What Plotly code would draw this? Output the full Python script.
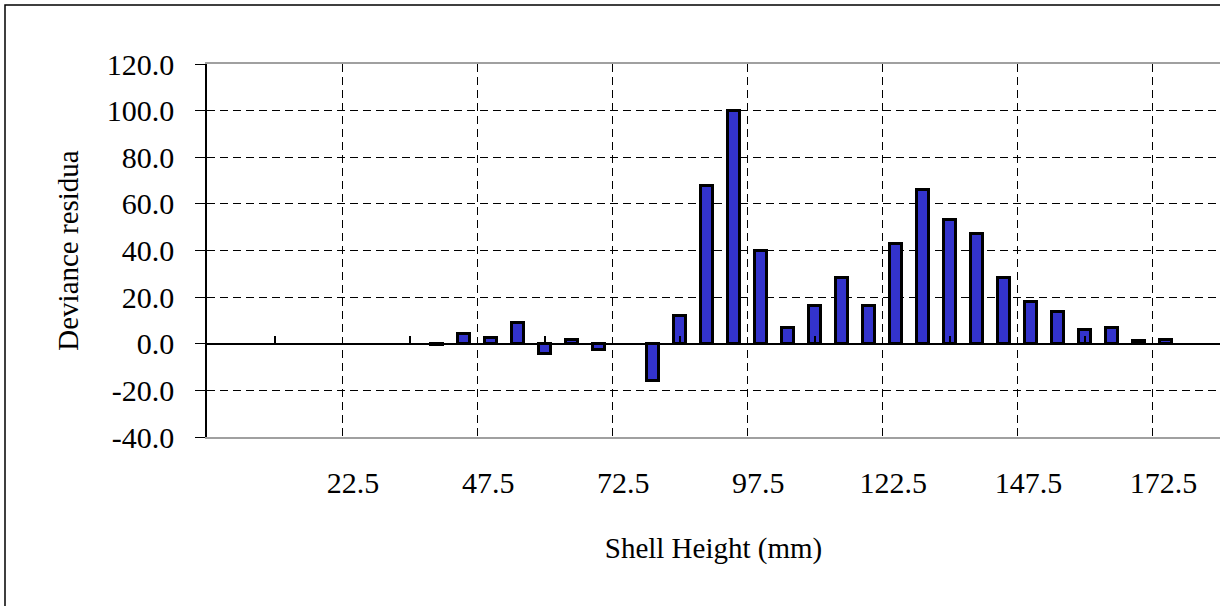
import plotly.graph_objects as go

# Data
shell_height = [40, 45, 50, 55, 60, 65, 70, 75, 80, 85, 90, 95, 100, 105, 110, 115,
                120, 125, 130, 135, 140, 145, 150, 155, 160, 165, 170, 175]
deviance = [-0.5, 4.2, 2.5, 8.7, -4.5, 1.5, -2.7, None, -16.0, 12.0, 67.5, 100.0, 40.0, 6.8,
            16.2, 28.2, 16.2, 42.8, 66.0, 53.0, 47.0, 28.2, 18.0, 13.6, 6.0, 6.7, 1.0, 1.8]

x_tick_vals = [22.5, 47.5, 72.5, 97.5, 122.5, 147.5, 172.5]
x_tick_text = ["22.5", "47.5", "72.5", "97.5", "122.5", "147.5", "172.5"]
x_minor_ticks = [10, 35, 60, 85, 110, 135, 160, 185]
y_tick_vals = [-40, -20, 0, 20, 40, 60, 80, 100, 120]
y_tick_text = ["-40.0", "-20.0", "0.0", "20.0", "40.0", "60.0", "80.0", "100.0", "120.0"]

FONT = "Liberation Serif, Times New Roman, serif"
XR = [-2.5, 185]

fig = go.Figure()
fig.add_trace(go.Bar(
    x=shell_height, y=deviance, width=2.2,
    marker=dict(color="#3333CC", line=dict(color="black", width=3)),
    showlegend=False,
))
# empty helper trace so the zero-line tick axis is rendered
fig.add_trace(go.Scatter(x=[], y=[], xaxis="x2", yaxis="y", showlegend=False,
                         hoverinfo="skip"))

fig.update_layout(
    width=1220, height=606,
    margin=dict(l=207, r=0, t=64, b=169),
    paper_bgcolor="white", plot_bgcolor="white",
    font=dict(family=FONT, size=29, color="black"),
    bargap=0,
    xaxis=dict(
        range=XR, tickmode="array", tickvals=x_tick_vals, ticktext=x_tick_text,
        showgrid=True, gridcolor="black", gridwidth=1, griddash="8px,5px",
        zeroline=False, ticks="", ticklabelstandoff=18, ticklabelshift=11,
        tickfont=dict(size=30),
        showline=True, linecolor="#a0a0a0", linewidth=2, mirror=True,
        title=dict(text="Shell Height (mm)", standoff=40, font=dict(size=29)),
    ),
    xaxis2=dict(
        range=XR, overlaying="x", anchor="free", position=0.25, side="bottom",
        tickmode="array", tickvals=x_minor_ticks, showticklabels=False,
        ticks="inside", ticklen=8, tickwidth=1.5, tickcolor="black",
        showgrid=False, zeroline=False, showline=False,
    ),
    yaxis=dict(
        range=[-40, 120], tickmode="array", tickvals=y_tick_vals, ticktext=y_tick_text,
        showgrid=True, gridcolor="black", gridwidth=1, griddash="8px,5px",
        zeroline=True, zerolinecolor="black", zerolinewidth=1.5,
        showline=True, linecolor="black", linewidth=1.5,
        ticks="outside", ticklen=10, tickwidth=1.3, tickcolor="black",
        ticklabelstandoff=15, tickfont=dict(size=30),
        title=dict(text="Deviance residua", standoff=20, font=dict(size=29)),
    ),
    shapes=[dict(type="rect", xref="paper", yref="paper",
                 x0=(5 - 207) / 1013, x1=1.05, y0=-0.6, y1=(437 - 5) / 373,
                 line=dict(color="black", width=1.5), fillcolor="rgba(0,0,0,0)",
                 layer="below")],
)

fig.write_html("out.html")
